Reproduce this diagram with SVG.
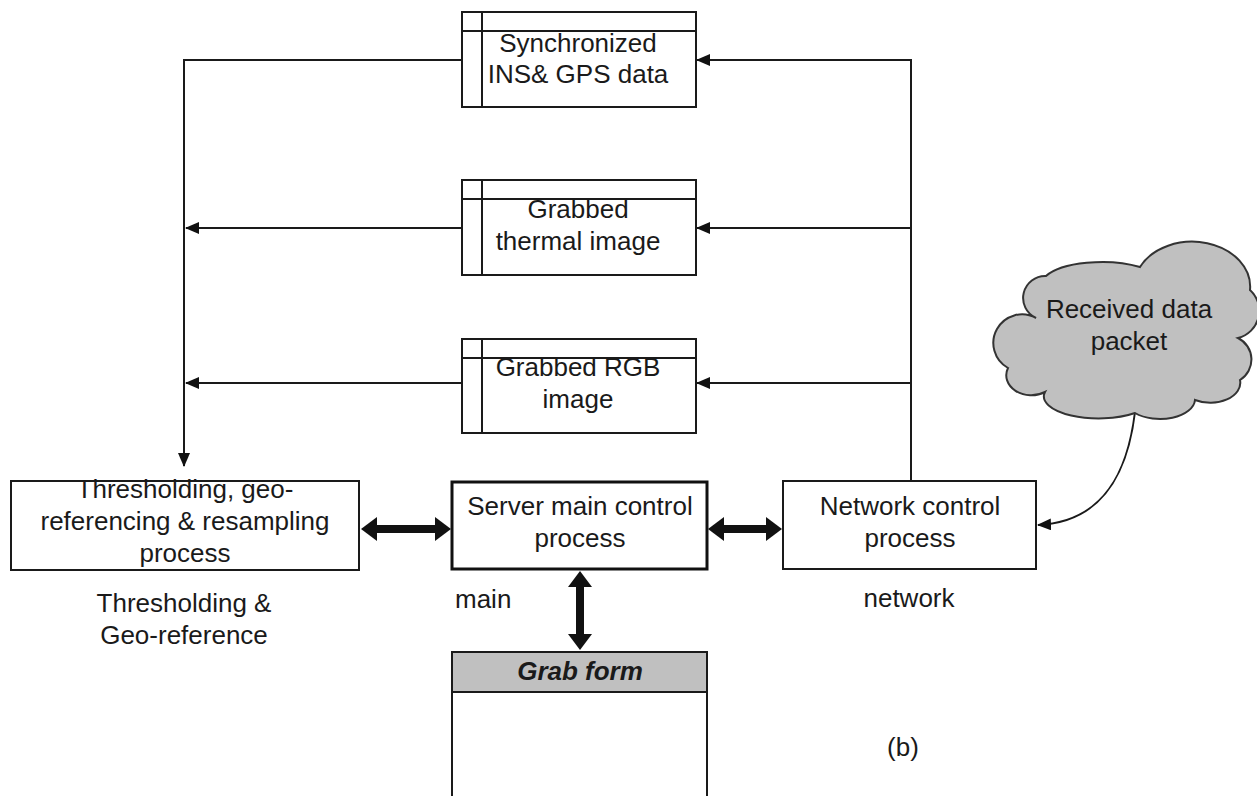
<svg xmlns="http://www.w3.org/2000/svg" width="1257" height="796" viewBox="0 0 1257 796">
<style>
text{font-family:"Liberation Sans",Arial,sans-serif;font-size:26px;fill:#1a1a1a;text-anchor:middle}
.box{fill:#fff;stroke:#1a1a1a;stroke-width:2}
.thin{fill:none;stroke:#1a1a1a;stroke-width:2}
.thick{fill:none;stroke:#111;stroke-width:8}
</style>
<defs>
<marker id="ah" markerUnits="userSpaceOnUse" markerWidth="14" markerHeight="14" refX="13" refY="6" orient="auto">
<path d="M0,0 L14,6 L0,12 z" fill="#111"/>
</marker>
<marker id="tah" markerUnits="userSpaceOnUse" markerWidth="18" markerHeight="26" refX="1" refY="12" orient="auto-start-reverse">
<path d="M0,0 L16,12 L0,24 z" fill="#111"/>
</marker>
</defs>

<g id="connectors">
<path class="thin" d="M462,60 H184 V466" marker-end="url(#ah)"/>
<path class="thin" d="M462,228 H186" marker-end="url(#ah)"/>
<path class="thin" d="M462,383 H186" marker-end="url(#ah)"/>
<path class="thin" d="M911,481 V60 H697" marker-end="url(#ah)"/>
<path class="thin" d="M911,228 H697" marker-end="url(#ah)"/>
<path class="thin" d="M911,383 H697" marker-end="url(#ah)"/>
<path class="thin" d="M1135,412 C1128,470 1105,522 1038,525" marker-end="url(#ah)"/>
<line class="thick" x1="376" y1="529" x2="436" y2="529" marker-start="url(#tah)" marker-end="url(#tah)"/>
<line class="thick" x1="723" y1="529" x2="767" y2="529" marker-start="url(#tah)" marker-end="url(#tah)"/>
<line class="thick" x1="580" y1="586" x2="580" y2="635" marker-start="url(#tah)" marker-end="url(#tah)"/>
</g>

<g id="sync-data">
<rect class="box" x="462" y="12" width="234" height="95"/>
<line class="thin" x1="462" y1="31" x2="696" y2="31"/>
<line class="thin" x1="482" y1="12" x2="482" y2="107"/>
<text x="578" y="52">Synchronized</text>
<text x="578" y="83">INS&amp; GPS data</text>
</g>

<g id="thermal-image">
<rect class="box" x="462" y="180" width="234" height="95"/>
<line class="thin" x1="462" y1="199" x2="696" y2="199"/>
<line class="thin" x1="482" y1="180" x2="482" y2="275"/>
<text x="578" y="218">Grabbed</text>
<text x="578" y="250">thermal image</text>
</g>

<g id="rgb-image">
<rect class="box" x="462" y="339" width="234" height="94"/>
<line class="thin" x1="462" y1="358" x2="696" y2="358"/>
<line class="thin" x1="482" y1="339" x2="482" y2="433"/>
<text x="578" y="376">Grabbed RGB</text>
<text x="578" y="408">image</text>
</g>

<g id="thresholding">
<rect class="box" x="11" y="481" width="348" height="89"/>
<text x="185" y="498">Thresholding, geo-</text>
<text x="185" y="530">referencing &amp; resampling</text>
<text x="185" y="562">process</text>
<text x="184" y="612">Thresholding &amp;</text>
<text x="184" y="644">Geo-reference</text>
</g>

<g id="server-main">
<rect x="452" y="482" width="255" height="87" fill="#fff" stroke="#111" stroke-width="3"/>
<text x="580" y="515">Server main control</text>
<text x="580" y="547">process</text>
<text x="455" y="608" style="text-anchor:start">main</text>
</g>

<g id="network-control">
<rect class="box" x="783" y="481" width="253" height="88"/>
<text x="910" y="515">Network control</text>
<text x="910" y="547">process</text>
<text x="909" y="607">network</text>
</g>

<g id="received-packet">
<path d="M1008,368 A25,25 0 0 1 1036,318 A22,22 0 0 1 1046,276 A60,22 0 0 1 1140,267 A58,45 0 0 1 1250,290 A28,28 0 0 1 1238,338 A24,24 0 0 1 1240,380 A30,20 0 0 1 1195,400 A35,20 0 0 1 1135,413 A55,22 0 0 1 1045,392 A25,20 0 0 1 1008,368 Z" fill="#c0c0c0" stroke="#333" stroke-width="2"/>
<text x="1129" y="318">Received data</text>
<text x="1129" y="350">packet</text>
</g>

<g id="grab-form">
<rect class="box" x="452" y="652" width="255" height="160"/>
<rect x="452" y="652" width="255" height="40" fill="#c0c0c0" stroke="#1a1a1a" stroke-width="2"/>
<text x="580" y="680" style="font-weight:bold;font-style:italic">Grab form</text>
</g>

<text x="903" y="756">(b)</text>
</svg>
